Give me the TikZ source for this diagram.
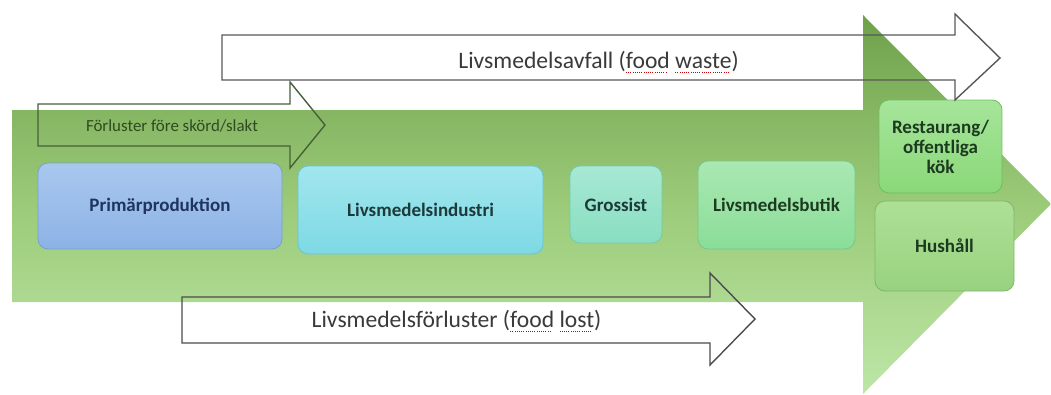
\documentclass[tikz,border=0pt]{standalone}
\usepackage{fontspec}
\setmainfont{Carlito}
\newcommand\spellmark[1]{\setbox0=\hbox{#1}\leavevmode\rlap{\raisebox{-0.22em}{\textcolor{red!80!black}{\leaders\hbox{\rule{0.9pt}{0.9pt}\kern1.3pt}\hskip\wd0}}}\box0\relax}
\definecolor{gA}{HTML}{6FA04A}
\definecolor{gB}{HTML}{9BCB79}
\definecolor{gC}{HTML}{BDE6A6}
\definecolor{pT}{HTML}{A9C8EF}\definecolor{pB}{HTML}{8CB2E5}\definecolor{pD}{HTML}{7A9FD0}
\definecolor{iT}{HTML}{A2E6EE}\definecolor{iB}{HTML}{7DD9E4}\definecolor{iD}{HTML}{6CC3CF}
\definecolor{oT}{HTML}{A8E8D4}\definecolor{oB}{HTML}{88DEC0}\definecolor{oD}{HTML}{77C9AA}
\definecolor{bT}{HTML}{A9E8B2}\definecolor{bB}{HTML}{8BDD98}\definecolor{bD}{HTML}{79C687}
\definecolor{rT}{HTML}{A6E59A}\definecolor{rB}{HTML}{8AD879}\definecolor{rD}{HTML}{6FBE5E}
\definecolor{hT}{HTML}{ADE096}\definecolor{hB}{HTML}{98D27F}\definecolor{hD}{HTML}{7DB866}
\definecolor{txtgray}{HTML}{3A3A3A}
\definecolor{leafline}{HTML}{46603A}
\definecolor{leaftxt}{HTML}{2F4A22}
\definecolor{navy}{HTML}{1F3560}
\definecolor{darkteal}{HTML}{1C3A3A}
\definecolor{darkgreen}{HTML}{1C3A20}
\begin{document}
\begin{tikzpicture}[x=1pt,y=-1pt,
  stage/.style={rounded corners=10pt, inner sep=0pt, align=center,
    font=\bfseries\fontsize{19}{20}\selectfont, line width=0.8pt},
  outarrow/.style={line width=1.4pt, line join=miter},
  arrowtext/.style={inner sep=0pt, anchor=base, text=txtgray, font=\fontsize{23.6}{26}\selectfont}]
\useasboundingbox (0,0) rectangle (1051,394);
\fill[white] (0,0) rectangle (1051,394);
% big green arrow
\shade[top color=gA, bottom color=gC, middle color=gB]
  (12,110) -- (863,110) -- (863,15) -- (1051,204) -- (863,394) -- (863,302) -- (12,302) -- cycle;
% stages
\node[stage, draw=pD, top color=pT, bottom color=pB, text=navy, minimum width=244pt, minimum height=86pt] (prim) at (160,206) {Primärproduktion};
\node[stage, draw=iD, top color=iT, bottom color=iB, text=darkteal, minimum width=245pt, minimum height=88pt] (ind) at (420.5,210) {Livsmedelsindustri};
\node[stage, draw=oD, top color=oT, bottom color=oB, text=darkteal, minimum width=92pt, minimum height=77pt] (gross) at (616,204.5) {Grossist};
\node[stage, draw=bD, top color=bT, bottom color=bB, text=darkgreen, minimum width=157pt, minimum height=88pt] (butik) at (776.5,205) {Livsmedelsbutik};
\node[stage, draw=rD, top color=rT, bottom color=rB, text=darkgreen, minimum width=123pt, minimum height=93pt] (rest) at (940.5,146.5) {Restaurang/\\offentliga\\kök};
\node[stage, draw=hD, top color=hT, bottom color=hB, text=darkgreen, minimum width=139pt, minimum height=90pt] (hush) at (944.5,246) {Hushåll};
% outline arrows
\draw[outarrow, draw=black!65] (222,35) -- (955,35) -- (955,14) -- (1000,58) -- (955,100) -- (955,80) -- (222,80) -- cycle;
\draw[outarrow, draw=leafline] (38,104) -- (290,104) -- (290,82) -- (325,125) -- (290,168) -- (290,146) -- (38,146) -- cycle;
\draw[outarrow, draw=black!70] (182,297) -- (710,297) -- (710,273) -- (755,319) -- (710,365) -- (710,343) -- (182,343) -- cycle;
% arrow texts
\node[arrowtext] (waste) at (598.5,68) {Livsmedelsavfall (\spellmark{food} \spellmark{waste})};
\node[arrowtext] (lost) at (456.5,327) {Livsmedelsförluster (\spellmark{food} \spellmark{lost})};
\node[inner sep=0pt, anchor=base, text=leaftxt, font=\fontsize{16.9}{19}\selectfont] (pre) at (172,131) {Förluster före skörd/slakt};
\end{tikzpicture}
\end{document}
